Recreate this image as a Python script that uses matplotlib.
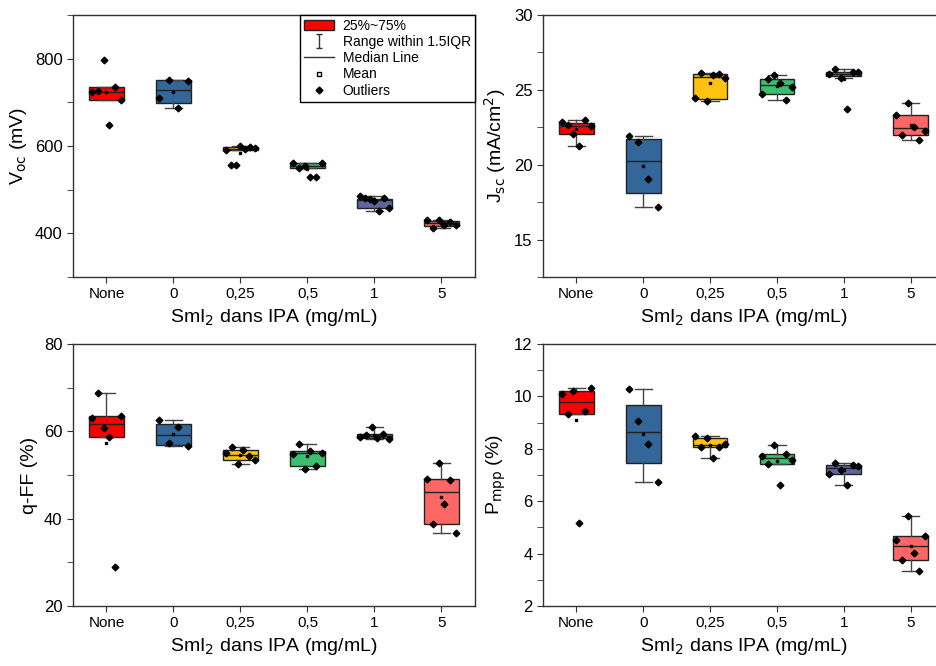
import numpy as np
import matplotlib
matplotlib.use("Agg")
import matplotlib.pyplot as plt
from matplotlib.path import Path
from matplotlib.lines import Line2D
from matplotlib.patches import Patch
from matplotlib.ticker import MultipleLocator

plt.rcParams['font.family'] = ['Liberation Sans', 'DejaVu Sans']

groups = ['None', '0', '0,25', '0,5', '1', '5']
colors = ['#FF0000', '#336699', '#FFC20E', '#3DBE6E', '#62649E', '#FF6666']

# ---- Voc (mV)
voc_pts = [[723, 726, 798, 648, 735, 706],
           [710, 752, 688, 749],
           [590, 556, 556, 600, 593, 597, 596],
           [562, 550, 554, 530, 530, 560],
           [485, 480, 479, 475, 450, 480, 459],
           [431, 412, 431, 418, 427, 419]]
voc_q1 = [706, 698, 590, 550, 459, 417]
voc_med = [723, 729, 593, 554, 477, 424]
voc_q3 = [735, 751, 597, 560, 479, 429]
voc_lo = [706, 688, 590, 550, 450, 412]
voc_hi = [735, 751, 600, 562, 485, 431]

# ---- Jsc (mA/cm2)
jsc_pts = [[22.84, 22.62, 22.06, 21.26, 23.0, 22.58],
           [21.9, 21.53, 19.02, 17.15],
           [24.47, 26.1, 24.24, 26.02, 26.05, 25.82],
           [24.69, 25.73, 26.02, 25.44, 24.35, 25.18],
           [26.09, 26.36, 25.8, 23.69, 26.16, 26.22],
           [23.31, 21.97, 24.09, 22.55, 21.66, 22.26]]
jsc_q1 = [22.06, 18.10, 24.42, 24.69, 25.93, 21.97]
jsc_med = [22.60, 20.26, 25.87, 25.31, 26.09, 22.42]
jsc_q3 = [22.80, 21.73, 26.05, 25.71, 26.22, 23.31]
jsc_lo = [21.26, 17.15, 24.24, 24.35, 25.80, 21.66]
jsc_hi = [23.00, 21.90, 26.10, 26.02, 26.36, 24.09]

# ---- q-FF (%)
qff_pts = [[63.0, 68.7, 60.8, 58.6, 28.9, 63.5],
           [62.6, 57.3, 60.9, 56.6],
           [55.0, 56.5, 52.6, 55.7, 54.4, 53.5],
           [54.8, 57.1, 51.4, 55.5, 52.1, 55.0],
           [58.6, 59.2, 61.0, 58.4, 59.5, 58.2],
           [49.0, 38.7, 52.7, 43.3, 48.9, 36.8]]
qff_q1 = [58.6, 56.9, 53.5, 52.1, 58.4, 38.7]
qff_med = [61.75, 59.2, 54.6, 55.0, 59.0, 46.1]
qff_q3 = [63.5, 61.7, 55.7, 55.4, 59.5, 49.0]
qff_lo = [58.6, 56.6, 52.6, 51.4, 58.2, 36.8]
qff_hi = [68.7, 62.6, 56.5, 57.1, 61.0, 52.7]

# ---- Pmpp (%)
pmpp_pts = [[10.1, 9.34, 10.2, 5.18, 9.46, 10.32],
            [10.28, 9.08, 8.19, 6.72],
            [8.5, 8.07, 8.41, 7.64, 8.07, 8.2],
            [7.73, 7.42, 8.15, 6.62, 7.79, 7.56],
            [7.05, 7.46, 7.18, 6.62, 7.39, 7.36],
            [4.53, 3.75, 5.45, 4.04, 3.32, 4.69]]
pmpp_q1 = [9.34, 7.46, 8.07, 7.42, 7.05, 3.75]
pmpp_med = [9.78, 8.65, 8.16, 7.64, 7.28, 4.29]
pmpp_q3 = [10.19, 9.68, 8.41, 7.79, 7.39, 4.69]
pmpp_lo = [9.34, 6.72, 7.64, 7.42, 6.62, 3.32]
pmpp_hi = [10.32, 10.28, 8.50, 8.15, 7.46, 5.45]

xlabel = 'SmI$_2$ dans IPA (mg/mL)'

fig = plt.figure(figsize=(9.37, 6.66), dpi=100)
W, H = 937, 666


def add_ax(l, t, r, b):
    return fig.add_axes([l / W, 1 - b / H, (r - l) / W, (b - t) / H])


axes = [add_ax(73, 15, 475, 277), add_ax(543, 15, 944, 277),
        add_ax(73, 344, 475, 606), add_ax(543, 344, 944, 606)]

panels = [
    (voc_pts, voc_q1, voc_med, voc_q3, voc_lo, voc_hi, 'V$_{\\mathrm{oc}}$ (mV)', (300, 900), 200, 100),
    (jsc_pts, jsc_q1, jsc_med, jsc_q3, jsc_lo, jsc_hi, 'J$_{\\mathrm{sc}}$ (mA/cm$^2$)', (12.5, 30), 5, 2.5),
    (qff_pts, qff_q1, qff_med, qff_q3, qff_lo, qff_hi, 'q-FF (%)', (20, 80), 20, 10),
    (pmpp_pts, pmpp_q1, pmpp_med, pmpp_q3, pmpp_lo, pmpp_hi, 'P$_{\\mathrm{mpp}}$ (%)', (2, 12), 2, 1),
]

pos = np.arange(len(groups))
for ax, (pts, q1, med, q3, lo, hi, ylab, ylim, major, minor) in zip(axes, panels):
    stats = []
    for i in range(len(groups)):
        stats.append(dict(q1=q1[i], med=med[i], q3=q3[i], whislo=lo[i],
                          whishi=hi[i], fliers=[], mean=np.mean(pts[i])))
    bp = ax.bxp(stats, positions=pos, widths=0.52, patch_artist=True,
                showfliers=False, showmeans=False,
                boxprops=dict(edgecolor='#222222', linewidth=1.0),
                medianprops=dict(color='#222222', linewidth=1.0),
                whiskerprops=dict(color='#444444', linewidth=1.0),
                capprops=dict(color='#444444', linewidth=1.0),
                capwidths=0.26)
    for patch, c in zip(bp['boxes'], colors):
        patch.set_facecolor(c)
    for i in range(len(groups)):
        y = pts[i]
        xs = pos[i] + np.linspace(-0.22, 0.22, len(y))
        ax.plot(xs, y, 'D', color='black', ms=3.4, zorder=4)
        ax.plot(pos[i], np.mean(y), 's', color='black', ms=2.0, zorder=4)
    ax.set_xlim(-0.5, 5.5)
    ax.set_ylim(*ylim)
    ax.set_xticks(pos)
    ax.set_xticklabels(groups, fontsize=11)
    ax.yaxis.set_major_locator(MultipleLocator(major))
    ax.yaxis.set_minor_locator(MultipleLocator(minor))
    ax.tick_params(axis='y', which='both', length=4, direction='out', labelsize=12, colors='#333333', labelcolor='black')
    ax.tick_params(axis='x', length=4, direction='out', colors='#333333', labelcolor='black')
    ax.set_ylabel(ylab, fontsize=14)
    ax.set_xlabel(xlabel, fontsize=14)
    for s in ax.spines.values():
        s.set_color('#333333')
        s.set_linewidth(1.0)

# legend in the first panel
ibeam = Path([(-0.5, 1), (0.5, 1), (0, 1), (0, -1), (-0.5, -1), (0.5, -1)],
             [Path.MOVETO, Path.LINETO, Path.MOVETO, Path.LINETO, Path.MOVETO, Path.LINETO])
handles = [
    Patch(facecolor=colors[0], edgecolor='#222222'),
    Line2D([], [], ls='none', marker=ibeam, ms=10, color='#333333', mew=1),
    Line2D([], [], color='#333333', lw=1),
    Line2D([], [], ls='none', marker='s', ms=3, mfc='white', mec='black'),
    Line2D([], [], ls='none', marker='D', ms=3.5, color='black'),
]
labels = ['25%~75%', 'Range within 1.5IQR', 'Median Line', 'Mean', 'Outliers']
leg = axes[0].legend(handles, labels, loc='upper right', fontsize=10,
                     frameon=True, fancybox=False, framealpha=1,
                     borderaxespad=0, handlelength=2.2, handletextpad=0.6,
                     labelspacing=0.15, borderpad=0.3)
leg.get_frame().set_edgecolor('black')
leg.get_frame().set_linewidth(1.0)

fig.savefig('out.png', dpi=100)
